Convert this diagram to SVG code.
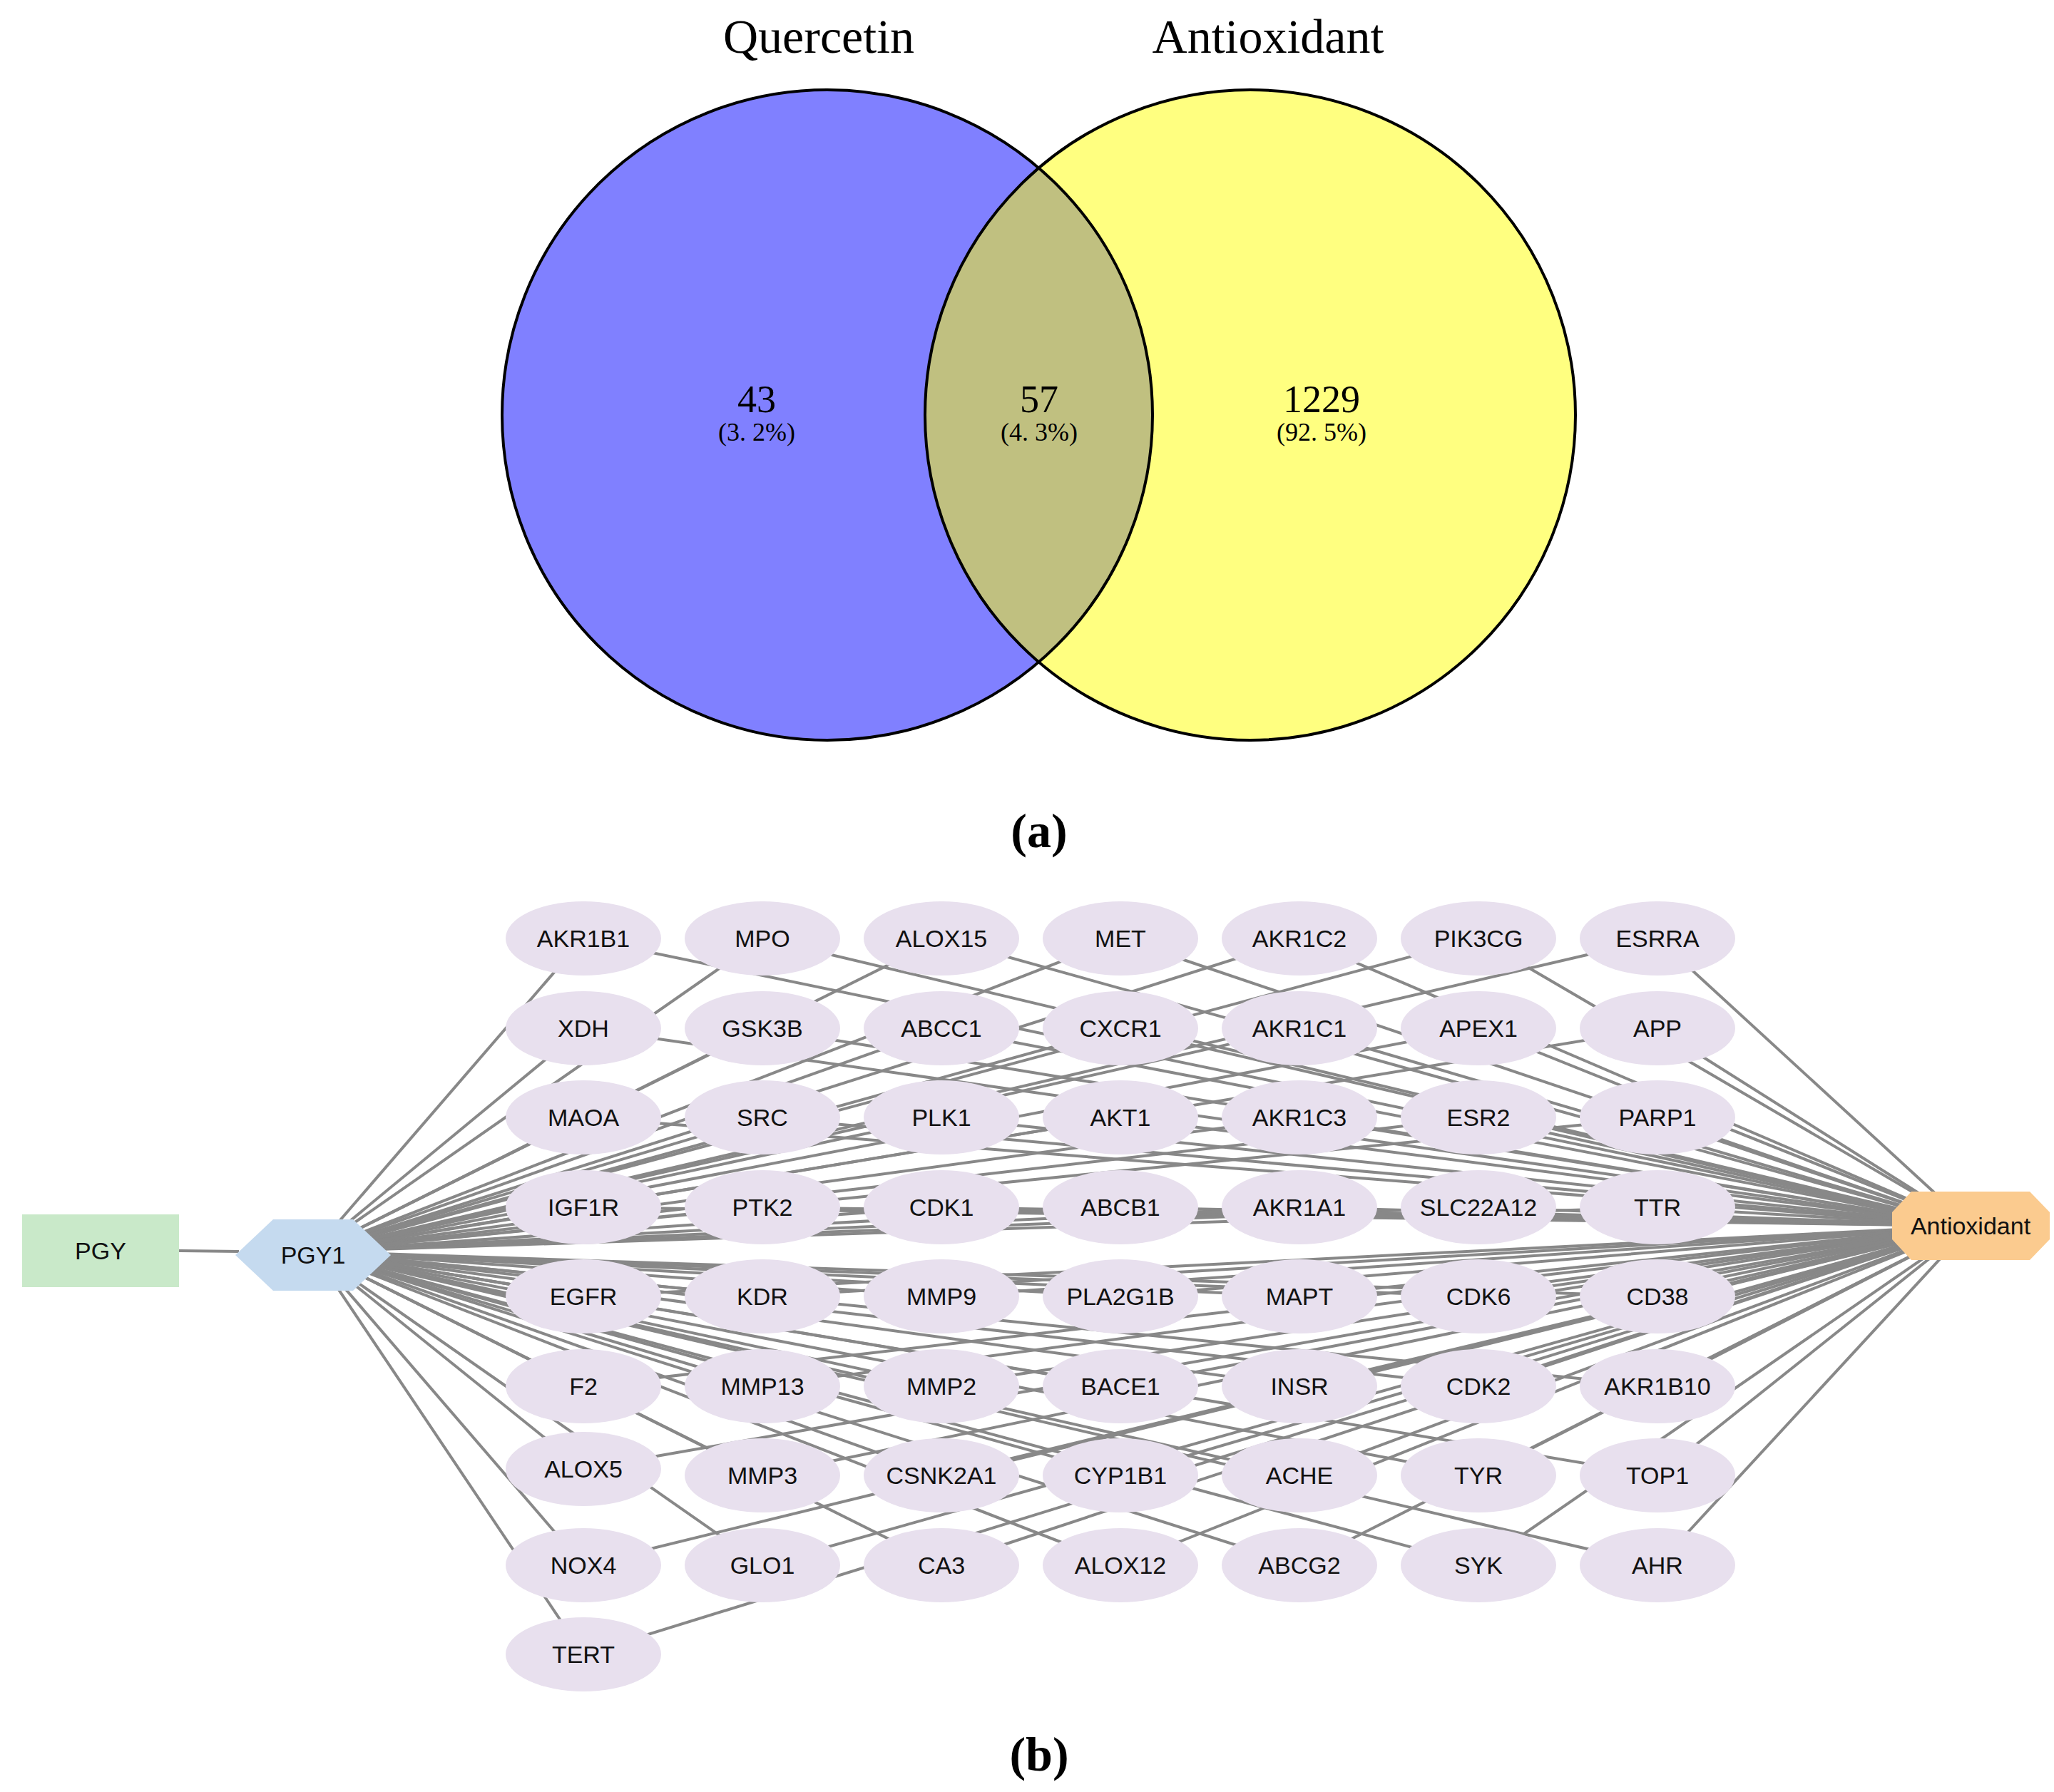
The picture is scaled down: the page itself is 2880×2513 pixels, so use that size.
<svg xmlns="http://www.w3.org/2000/svg" width="2880" height="2513" viewBox="0 0 2880 2513">
<style>
.t{font-family:"Liberation Serif","Times New Roman",serif;text-anchor:middle;fill:#000}
.n{font-family:"Liberation Sans",Arial,sans-serif;font-size:34px;text-anchor:middle;fill:#111}
.g{fill:#E8E0EE}
#edges line{stroke:#888;stroke-width:4}
</style>
<defs>
<clipPath id="cl"><circle cx="1160" cy="582" r="456"/></clipPath>
</defs>
<g id="venn">
<circle cx="1160" cy="582" r="456" fill="#8080FF"/>
<circle cx="1753" cy="582" r="456" fill="#FFFF80"/>
<circle cx="1753" cy="582" r="456" fill="#C0C080" clip-path="url(#cl)"/>
<circle cx="1160" cy="582" r="456" fill="none" stroke="#000" stroke-width="4"/>
<circle cx="1753" cy="582" r="456" fill="none" stroke="#000" stroke-width="4"/>
<text class="t" x="1148" y="74" font-size="68">Quercetin</text>
<text class="t" x="1778" y="74" font-size="68">Antioxidant</text>
<text class="t" x="1061" y="578" font-size="54">43</text>
<text class="t" x="1061" y="618" font-size="36">(3. 2%)</text>
<text class="t" x="1457" y="578" font-size="54">57</text>
<text class="t" x="1457" y="618" font-size="36">(4. 3%)</text>
<text class="t" x="1853" y="578" font-size="54">1229</text>
<text class="t" x="1853" y="618" font-size="36">(92. 5%)</text>
<text class="t" x="1457" y="1188" font-size="68" font-weight="bold">(a)</text>
</g>
<g id="edges">
<line x1="251" y1="1754" x2="335" y2="1755"/>
<line x1="439" y1="1755" x2="818" y2="1316"/><line x1="439" y1="1755" x2="1069" y2="1316"/><line x1="439" y1="1755" x2="1320" y2="1316"/><line x1="439" y1="1755" x2="1571" y2="1316"/><line x1="439" y1="1755" x2="1822" y2="1316"/><line x1="439" y1="1755" x2="2073" y2="1316"/><line x1="439" y1="1755" x2="2324" y2="1316"/>
<line x1="439" y1="1755" x2="818" y2="1442"/><line x1="439" y1="1755" x2="1069" y2="1442"/><line x1="439" y1="1755" x2="1320" y2="1442"/><line x1="439" y1="1755" x2="1571" y2="1442"/><line x1="439" y1="1755" x2="1822" y2="1442"/><line x1="439" y1="1755" x2="2073" y2="1442"/><line x1="439" y1="1755" x2="2324" y2="1442"/>
<line x1="439" y1="1755" x2="818" y2="1567"/><line x1="439" y1="1755" x2="1069" y2="1567"/><line x1="439" y1="1755" x2="1320" y2="1567"/><line x1="439" y1="1755" x2="1571" y2="1567"/><line x1="439" y1="1755" x2="1822" y2="1567"/><line x1="439" y1="1755" x2="2073" y2="1567"/><line x1="439" y1="1755" x2="2324" y2="1567"/>
<line x1="439" y1="1755" x2="818" y2="1693"/><line x1="439" y1="1755" x2="1069" y2="1693"/><line x1="439" y1="1755" x2="1320" y2="1693"/><line x1="439" y1="1755" x2="1571" y2="1693"/><line x1="439" y1="1755" x2="1822" y2="1693"/><line x1="439" y1="1755" x2="2073" y2="1693"/><line x1="439" y1="1755" x2="2324" y2="1693"/>
<line x1="439" y1="1755" x2="818" y2="1818"/><line x1="439" y1="1755" x2="1069" y2="1818"/><line x1="439" y1="1755" x2="1320" y2="1818"/><line x1="439" y1="1755" x2="1571" y2="1818"/><line x1="439" y1="1755" x2="1822" y2="1818"/><line x1="439" y1="1755" x2="2073" y2="1818"/><line x1="439" y1="1755" x2="2324" y2="1818"/>
<line x1="439" y1="1755" x2="818" y2="1944"/><line x1="439" y1="1755" x2="1069" y2="1944"/><line x1="439" y1="1755" x2="1320" y2="1944"/><line x1="439" y1="1755" x2="1571" y2="1944"/><line x1="439" y1="1755" x2="1822" y2="1944"/><line x1="439" y1="1755" x2="2073" y2="1944"/><line x1="439" y1="1755" x2="2324" y2="1944"/>
<line x1="439" y1="1755" x2="818" y2="2060"/><line x1="439" y1="1755" x2="1069" y2="2069"/><line x1="439" y1="1755" x2="1320" y2="2069"/><line x1="439" y1="1755" x2="1571" y2="2069"/><line x1="439" y1="1755" x2="1822" y2="2069"/><line x1="439" y1="1755" x2="2073" y2="2069"/><line x1="439" y1="1755" x2="2324" y2="2069"/>
<line x1="439" y1="1755" x2="818" y2="2195"/><line x1="439" y1="1755" x2="1069" y2="2195"/><line x1="439" y1="1755" x2="1320" y2="2195"/><line x1="439" y1="1755" x2="1571" y2="2195"/><line x1="439" y1="1755" x2="1822" y2="2195"/><line x1="439" y1="1755" x2="2073" y2="2195"/><line x1="439" y1="1755" x2="2324" y2="2195"/>
<line x1="439" y1="1755" x2="818" y2="2320"/>
<line x1="2763" y1="1719" x2="818" y2="1316"/><line x1="2763" y1="1719" x2="1069" y2="1316"/><line x1="2763" y1="1719" x2="1320" y2="1316"/><line x1="2763" y1="1719" x2="1571" y2="1316"/><line x1="2763" y1="1719" x2="1822" y2="1316"/><line x1="2763" y1="1719" x2="2073" y2="1316"/><line x1="2763" y1="1719" x2="2324" y2="1316"/>
<line x1="2763" y1="1719" x2="818" y2="1442"/><line x1="2763" y1="1719" x2="1069" y2="1442"/><line x1="2763" y1="1719" x2="1320" y2="1442"/><line x1="2763" y1="1719" x2="1571" y2="1442"/><line x1="2763" y1="1719" x2="1822" y2="1442"/><line x1="2763" y1="1719" x2="2073" y2="1442"/><line x1="2763" y1="1719" x2="2324" y2="1442"/>
<line x1="2763" y1="1719" x2="818" y2="1567"/><line x1="2763" y1="1719" x2="1069" y2="1567"/><line x1="2763" y1="1719" x2="1320" y2="1567"/><line x1="2763" y1="1719" x2="1571" y2="1567"/><line x1="2763" y1="1719" x2="1822" y2="1567"/><line x1="2763" y1="1719" x2="2073" y2="1567"/><line x1="2763" y1="1719" x2="2324" y2="1567"/>
<line x1="2763" y1="1719" x2="818" y2="1693"/><line x1="2763" y1="1719" x2="1069" y2="1693"/><line x1="2763" y1="1719" x2="1320" y2="1693"/><line x1="2763" y1="1719" x2="1571" y2="1693"/><line x1="2763" y1="1719" x2="1822" y2="1693"/><line x1="2763" y1="1719" x2="2073" y2="1693"/><line x1="2763" y1="1719" x2="2324" y2="1693"/>
<line x1="2763" y1="1719" x2="818" y2="1818"/><line x1="2763" y1="1719" x2="1069" y2="1818"/><line x1="2763" y1="1719" x2="1320" y2="1818"/><line x1="2763" y1="1719" x2="1571" y2="1818"/><line x1="2763" y1="1719" x2="1822" y2="1818"/><line x1="2763" y1="1719" x2="2073" y2="1818"/><line x1="2763" y1="1719" x2="2324" y2="1818"/>
<line x1="2763" y1="1719" x2="818" y2="1944"/><line x1="2763" y1="1719" x2="1069" y2="1944"/><line x1="2763" y1="1719" x2="1320" y2="1944"/><line x1="2763" y1="1719" x2="1571" y2="1944"/><line x1="2763" y1="1719" x2="1822" y2="1944"/><line x1="2763" y1="1719" x2="2073" y2="1944"/><line x1="2763" y1="1719" x2="2324" y2="1944"/>
<line x1="2763" y1="1719" x2="818" y2="2060"/><line x1="2763" y1="1719" x2="1069" y2="2069"/><line x1="2763" y1="1719" x2="1320" y2="2069"/><line x1="2763" y1="1719" x2="1571" y2="2069"/><line x1="2763" y1="1719" x2="1822" y2="2069"/><line x1="2763" y1="1719" x2="2073" y2="2069"/><line x1="2763" y1="1719" x2="2324" y2="2069"/>
<line x1="2763" y1="1719" x2="818" y2="2195"/><line x1="2763" y1="1719" x2="1069" y2="2195"/><line x1="2763" y1="1719" x2="1320" y2="2195"/><line x1="2763" y1="1719" x2="1571" y2="2195"/><line x1="2763" y1="1719" x2="1822" y2="2195"/><line x1="2763" y1="1719" x2="2073" y2="2195"/><line x1="2763" y1="1719" x2="2324" y2="2195"/>
<line x1="2763" y1="1719" x2="818" y2="2320"/>
</g>
<g id="PGY"><rect x="31" y="1703" width="220" height="102" fill="#C9E9C9"/><text class="n" x="141" y="1766">PGY</text></g>
<g id="PGY1"><polygon points="330,1760 383,1710 495,1710 548,1760 495,1810 383,1810" fill="#C5DAEF"/><text class="n" x="439" y="1772">PGY1</text></g>
<g id="Antioxidant"><polygon points="2653,1700 2680,1671 2846,1671 2874,1700 2874,1738 2846,1767 2680,1767 2653,1738" fill="#FBCB8F"/><text class="n" x="2763" y="1731" font-size="32">Antioxidant</text></g>
<g id="genes">
<g id="AKR1B1"><ellipse class="g" cx="818" cy="1316" rx="109" ry="52"/><text class="n" x="818" y="1328">AKR1B1</text></g>
<g id="MPO"><ellipse class="g" cx="1069" cy="1316" rx="109" ry="52"/><text class="n" x="1069" y="1328">MPO</text></g>
<g id="ALOX15"><ellipse class="g" cx="1320" cy="1316" rx="109" ry="52"/><text class="n" x="1320" y="1328">ALOX15</text></g>
<g id="MET"><ellipse class="g" cx="1571" cy="1316" rx="109" ry="52"/><text class="n" x="1571" y="1328">MET</text></g>
<g id="AKR1C2"><ellipse class="g" cx="1822" cy="1316" rx="109" ry="52"/><text class="n" x="1822" y="1328">AKR1C2</text></g>
<g id="PIK3CG"><ellipse class="g" cx="2073" cy="1316" rx="109" ry="52"/><text class="n" x="2073" y="1328">PIK3CG</text></g>
<g id="ESRRA"><ellipse class="g" cx="2324" cy="1316" rx="109" ry="52"/><text class="n" x="2324" y="1328">ESRRA</text></g>
<g id="XDH"><ellipse class="g" cx="818" cy="1442" rx="109" ry="52"/><text class="n" x="818" y="1454">XDH</text></g>
<g id="GSK3B"><ellipse class="g" cx="1069" cy="1442" rx="109" ry="52"/><text class="n" x="1069" y="1454">GSK3B</text></g>
<g id="ABCC1"><ellipse class="g" cx="1320" cy="1442" rx="109" ry="52"/><text class="n" x="1320" y="1454">ABCC1</text></g>
<g id="CXCR1"><ellipse class="g" cx="1571" cy="1442" rx="109" ry="52"/><text class="n" x="1571" y="1454">CXCR1</text></g>
<g id="AKR1C1"><ellipse class="g" cx="1822" cy="1442" rx="109" ry="52"/><text class="n" x="1822" y="1454">AKR1C1</text></g>
<g id="APEX1"><ellipse class="g" cx="2073" cy="1442" rx="109" ry="52"/><text class="n" x="2073" y="1454">APEX1</text></g>
<g id="APP"><ellipse class="g" cx="2324" cy="1442" rx="109" ry="52"/><text class="n" x="2324" y="1454">APP</text></g>
<g id="MAOA"><ellipse class="g" cx="818" cy="1567" rx="109" ry="52"/><text class="n" x="818" y="1579">MAOA</text></g>
<g id="SRC"><ellipse class="g" cx="1069" cy="1567" rx="109" ry="52"/><text class="n" x="1069" y="1579">SRC</text></g>
<g id="PLK1"><ellipse class="g" cx="1320" cy="1567" rx="109" ry="52"/><text class="n" x="1320" y="1579">PLK1</text></g>
<g id="AKT1"><ellipse class="g" cx="1571" cy="1567" rx="109" ry="52"/><text class="n" x="1571" y="1579">AKT1</text></g>
<g id="AKR1C3"><ellipse class="g" cx="1822" cy="1567" rx="109" ry="52"/><text class="n" x="1822" y="1579">AKR1C3</text></g>
<g id="ESR2"><ellipse class="g" cx="2073" cy="1567" rx="109" ry="52"/><text class="n" x="2073" y="1579">ESR2</text></g>
<g id="PARP1"><ellipse class="g" cx="2324" cy="1567" rx="109" ry="52"/><text class="n" x="2324" y="1579">PARP1</text></g>
<g id="IGF1R"><ellipse class="g" cx="818" cy="1693" rx="109" ry="52"/><text class="n" x="818" y="1705">IGF1R</text></g>
<g id="PTK2"><ellipse class="g" cx="1069" cy="1693" rx="109" ry="52"/><text class="n" x="1069" y="1705">PTK2</text></g>
<g id="CDK1"><ellipse class="g" cx="1320" cy="1693" rx="109" ry="52"/><text class="n" x="1320" y="1705">CDK1</text></g>
<g id="ABCB1"><ellipse class="g" cx="1571" cy="1693" rx="109" ry="52"/><text class="n" x="1571" y="1705">ABCB1</text></g>
<g id="AKR1A1"><ellipse class="g" cx="1822" cy="1693" rx="109" ry="52"/><text class="n" x="1822" y="1705">AKR1A1</text></g>
<g id="SLC22A12"><ellipse class="g" cx="2073" cy="1693" rx="109" ry="52"/><text class="n" x="2073" y="1705">SLC22A12</text></g>
<g id="TTR"><ellipse class="g" cx="2324" cy="1693" rx="109" ry="52"/><text class="n" x="2324" y="1705">TTR</text></g>
<g id="EGFR"><ellipse class="g" cx="818" cy="1818" rx="109" ry="52"/><text class="n" x="818" y="1830">EGFR</text></g>
<g id="KDR"><ellipse class="g" cx="1069" cy="1818" rx="109" ry="52"/><text class="n" x="1069" y="1830">KDR</text></g>
<g id="MMP9"><ellipse class="g" cx="1320" cy="1818" rx="109" ry="52"/><text class="n" x="1320" y="1830">MMP9</text></g>
<g id="PLA2G1B"><ellipse class="g" cx="1571" cy="1818" rx="109" ry="52"/><text class="n" x="1571" y="1830">PLA2G1B</text></g>
<g id="MAPT"><ellipse class="g" cx="1822" cy="1818" rx="109" ry="52"/><text class="n" x="1822" y="1830">MAPT</text></g>
<g id="CDK6"><ellipse class="g" cx="2073" cy="1818" rx="109" ry="52"/><text class="n" x="2073" y="1830">CDK6</text></g>
<g id="CD38"><ellipse class="g" cx="2324" cy="1818" rx="109" ry="52"/><text class="n" x="2324" y="1830">CD38</text></g>
<g id="F2"><ellipse class="g" cx="818" cy="1944" rx="109" ry="52"/><text class="n" x="818" y="1956">F2</text></g>
<g id="MMP13"><ellipse class="g" cx="1069" cy="1944" rx="109" ry="52"/><text class="n" x="1069" y="1956">MMP13</text></g>
<g id="MMP2"><ellipse class="g" cx="1320" cy="1944" rx="109" ry="52"/><text class="n" x="1320" y="1956">MMP2</text></g>
<g id="BACE1"><ellipse class="g" cx="1571" cy="1944" rx="109" ry="52"/><text class="n" x="1571" y="1956">BACE1</text></g>
<g id="INSR"><ellipse class="g" cx="1822" cy="1944" rx="109" ry="52"/><text class="n" x="1822" y="1956">INSR</text></g>
<g id="CDK2"><ellipse class="g" cx="2073" cy="1944" rx="109" ry="52"/><text class="n" x="2073" y="1956">CDK2</text></g>
<g id="AKR1B10"><ellipse class="g" cx="2324" cy="1944" rx="109" ry="52"/><text class="n" x="2324" y="1956">AKR1B10</text></g>
<g id="ALOX5"><ellipse class="g" cx="818" cy="2060" rx="109" ry="52"/><text class="n" x="818" y="2072">ALOX5</text></g>
<g id="MMP3"><ellipse class="g" cx="1069" cy="2069" rx="109" ry="52"/><text class="n" x="1069" y="2081">MMP3</text></g>
<g id="CSNK2A1"><ellipse class="g" cx="1320" cy="2069" rx="109" ry="52"/><text class="n" x="1320" y="2081">CSNK2A1</text></g>
<g id="CYP1B1"><ellipse class="g" cx="1571" cy="2069" rx="109" ry="52"/><text class="n" x="1571" y="2081">CYP1B1</text></g>
<g id="ACHE"><ellipse class="g" cx="1822" cy="2069" rx="109" ry="52"/><text class="n" x="1822" y="2081">ACHE</text></g>
<g id="TYR"><ellipse class="g" cx="2073" cy="2069" rx="109" ry="52"/><text class="n" x="2073" y="2081">TYR</text></g>
<g id="TOP1"><ellipse class="g" cx="2324" cy="2069" rx="109" ry="52"/><text class="n" x="2324" y="2081">TOP1</text></g>
<g id="NOX4"><ellipse class="g" cx="818" cy="2195" rx="109" ry="52"/><text class="n" x="818" y="2207">NOX4</text></g>
<g id="GLO1"><ellipse class="g" cx="1069" cy="2195" rx="109" ry="52"/><text class="n" x="1069" y="2207">GLO1</text></g>
<g id="CA3"><ellipse class="g" cx="1320" cy="2195" rx="109" ry="52"/><text class="n" x="1320" y="2207">CA3</text></g>
<g id="ALOX12"><ellipse class="g" cx="1571" cy="2195" rx="109" ry="52"/><text class="n" x="1571" y="2207">ALOX12</text></g>
<g id="ABCG2"><ellipse class="g" cx="1822" cy="2195" rx="109" ry="52"/><text class="n" x="1822" y="2207">ABCG2</text></g>
<g id="SYK"><ellipse class="g" cx="2073" cy="2195" rx="109" ry="52"/><text class="n" x="2073" y="2207">SYK</text></g>
<g id="AHR"><ellipse class="g" cx="2324" cy="2195" rx="109" ry="52"/><text class="n" x="2324" y="2207">AHR</text></g>
<g id="TERT"><ellipse class="g" cx="818" cy="2320" rx="109" ry="52"/><text class="n" x="818" y="2332">TERT</text></g>
</g>
<text class="t" x="1457" y="2483" font-size="68" font-weight="bold">(b)</text>
</svg>
